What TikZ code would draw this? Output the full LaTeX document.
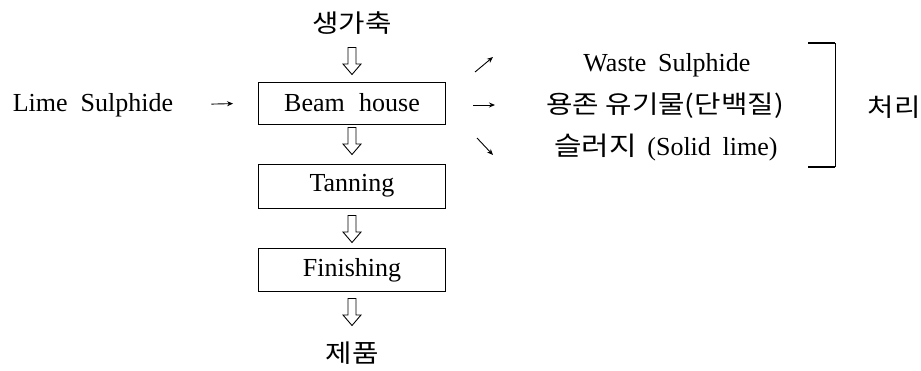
\documentclass[tikz,border=0pt]{standalone}
\usepackage{fontspec}
\usepackage{graphicx}
\setmainfont{Liberation Serif}
\newfontfamily\kr{Noto Sans CJK KR}
\newcommand{\krw}[1]{\scalebox{1.15}[1]{\kr #1}}
\usetikzlibrary{arrows.meta}
\begin{document}
\begin{tikzpicture}[x=1pt,y=-1pt,
  txt/.style={inner sep=0pt,font=\fontsize{26}{30}\selectfont},
  krtxt/.style={inner sep=0pt,font=\fontsize{25}{29}\selectfont},
  procbox/.style={draw,line width=0.9pt,minimum width=187pt,inner sep=0pt,font=\fontsize{26}{30}\selectfont},
  thin/.style={line width=0.9pt,-{Stealth[length=6pt,width=5pt]}},
  brk/.style={line width=1.4pt},
  pics/hollowarrow/.style={code={
    \draw[line width=0.9pt,line join=miter] (-4,-13.5) -- (4,-13.5) -- (4,3) -- (9,3) -- (0,13.5) -- (-9,3) -- (-4,3) -- cycle;
  }}
]
\useasboundingbox (0,0) rectangle (921,370);
\node[krtxt] (raw) at (352,23) {\krw{생가축}};
\pic (h1) at (352,61) {hollowarrow};
\node[procbox,minimum height=42pt] (beam) at (352,103) {Beam\hspace{0.3em} house};
\pic (h2) at (352,141) {hollowarrow};
\node[procbox,minimum height=44pt] (tan) at (352,186) {Tanning};
\pic (h3) at (352,229) {hollowarrow};
\node[procbox,minimum height=43pt] (fin) at (352,270) {Finishing};
\pic (h4) at (352,312) {hollowarrow};
\node[krtxt] (prod) at (352,353) {\krw{제품}};
\node[txt] (lime) at (93,105) {Lime\hspace{0.25em} Sulphide};
\draw[thin,shorten <=38pt,shorten >=25pt] (lime.east) -- (beam.west);
\node[txt] (waste) at (667,65) {Waste\hspace{0.2em} Sulphide};
\node[krtxt] (org) at (665,106) {\krw{용존 유기물(단백질)}};
\node[txt] (sludge) at (666,148) {\krw{슬러지}\hspace{0.4em}(Solid\hspace{0.2em} lime)};
\node[krtxt] (treat) at (894,107) {\krw{처리}};
\coordinate (a1s) at (475,72); \coordinate (a1e) at (493,57);
\coordinate (a2s) at (473,105); \coordinate (a2e) at (495,105);
\coordinate (a3s) at (477,138); \coordinate (a3e) at (493,155);
\draw[thin] (a1s) -- (a1e);
\draw[thin] (a2s) -- (a2e);
\draw[thin] (a3s) -- (a3e);
\coordinate (b1) at (808,43); \coordinate (b2) at (835,43);
\coordinate (b3) at (835,167); \coordinate (b4) at (808,167);
\draw[brk] (b1) -- (b2);
\draw[line width=0.9pt] (b2) -- (b3);
\draw[brk] (b3) -- (b4);
\end{tikzpicture}
\end{document}
